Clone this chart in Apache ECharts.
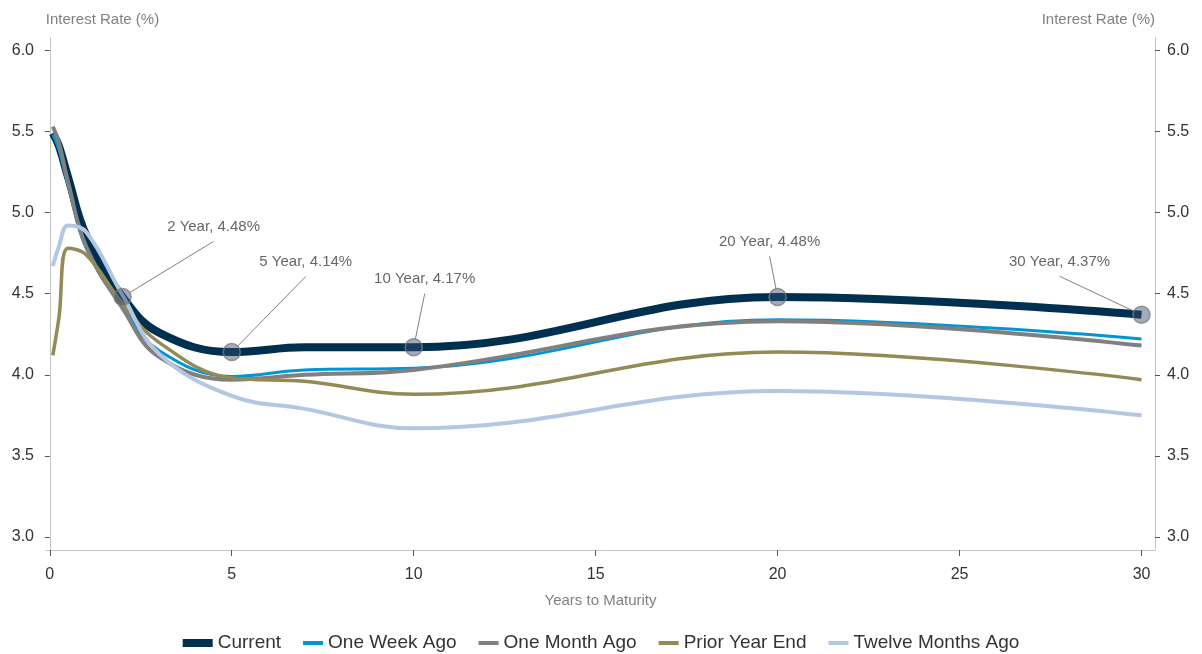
<!DOCTYPE html>
<html>
<head>
<meta charset="utf-8">
<script src="https://cdn.jsdelivr.net/npm/echarts@6/dist/echarts.min.js"></script>
<style>
html,body{margin:0;padding:0;background:#fff;}
#chart{width:1202px;height:654px;}
</style>
</head>
<body>
<div id="chart"></div>
<script>
// ---- data ----
const maturities = [0.083, 0.25, 0.5, 1, 2, 3, 5, 7, 10, 20, 30];
const current = [5.49, 5.41, 5.22, 4.86, 4.48, 4.26, 4.14, 4.17, 4.17, 4.48, 4.37];
const oneWeekAgo = [5.48, 5.39, 5.17, 4.78, 4.42, 4.15, 3.99, 4.03, 4.04, 4.34, 4.22];
const oneMonthAgo = [5.53, 5.43, 5.19, 4.79, 4.41, 4.11, 3.97, 4.00, 4.03, 4.33, 4.18];
const priorYearEnd = [4.12, 4.35, 4.78, 4.74, 4.44, 4.20, 3.98, 3.96, 3.88, 4.14, 3.97];
const twelveMonthsAgo = [4.67, 4.79, 4.92, 4.88, 4.49, 4.13, 3.87, 3.79, 3.67, 3.90, 3.75];
const seriesNames = ['Current', 'One Week Ago', 'One Month Ago', 'Prior Year End', 'Twelve Months Ago'];
const labeledMaturities = [2, 5, 10, 20, 30];
const xTicks = [0, 5, 10, 15, 20, 25, 30];
const yTicks = [3.0, 3.5, 4.0, 4.5, 5.0, 5.5, 6.0];

// ---- styling ----
const FONT = "'Liberation Sans', Arial, sans-serif";
const colors = ['#00304f', '#0096d6', '#808080', '#938a56', '#b4c7e2'];
const widths = [8, 3, 4, 3.5, 4];
const SMOOTH = 0.4;
// label text-centre offsets from the marker centre (px)
const labelOffsets = [[91, -71], [74, -91], [11, -69], [-8, -56], [-82, -54]];
const LBL_PAD_TOP = 100, LBL_PAD_BOTTOM = 7, LBL_HALF_H = 8.5;

const pairs = arr => maturities.map((m, i) => [m, arr[i]]);
const allSeries = [current, oneWeekAgo, oneMonthAgo, priorYearEnd, twelveMonthsAgo];

const lineSeries = allSeries.map((arr, i) => ({
  name: seriesNames[i],
  type: 'line',
  smooth: SMOOTH,
  showSymbol: false,
  symbol: 'none',
  data: pairs(arr),
  lineStyle: { color: colors[i], width: widths[i], cap: 'butt' },
  itemStyle: { color: colors[i] },
  z: 2 + i
}));

const markerData = labeledMaturities.map(m => [m, current[maturities.indexOf(m)]]);

const yAxisBase = (pos) => ({
  type: 'value',
  position: pos,
  min: 2.92,
  max: 6.076,
  name: 'Interest Rate (%)',
  nameLocation: 'end',
  nameGap: 11,
  nameTextStyle: {
    color: '#808080', fontSize: 15, fontFamily: FONT,
    align: pos === 'left' ? 'left' : 'right', verticalAlign: 'bottom',
    padding: pos === 'left' ? [0, 0, 0, -4] : 0
  },
  axisLine: { show: true, lineStyle: { color: '#c4c4c4', width: 1 } },
  axisTick: { show: true, length: 5, customValues: yTicks, lineStyle: { color: '#555' } },
  axisLabel: {
    customValues: yTicks, margin: 12, color: '#333', fontSize: 16, fontFamily: FONT,
    formatter: v => v.toFixed(1)
  },
  splitLine: { show: false }
});

const option = {
  animation: false,
  backgroundColor: '#fff',
  grid: { left: 46, right: 47, top: 38, bottom: 104, containLabel: false },
  xAxis: {
    type: 'value',
    min: -0.104,
    max: 30.37,
    name: 'Years to Maturity',
    nameLocation: 'middle',
    nameGap: 43,
    nameTextStyle: { color: '#808080', fontSize: 15, fontFamily: FONT },
    axisLine: { show: true, lineStyle: { color: '#c4c4c4', width: 1 } },
    axisTick: { show: true, length: 6, customValues: xTicks, lineStyle: { color: '#555' } },
    axisLabel: { customValues: xTicks, margin: 17, color: '#333', fontSize: 16, fontFamily: FONT },
    splitLine: { show: false }
  },
  yAxis: [yAxisBase('left'), yAxisBase('right')],
  legend: {
    data: seriesNames.map((n, i) => ({
      name: n,
      icon: i === 0 ? 'rect' : 'path://M0,0M30,8M10,2H30V6H10Z',
      itemStyle: { color: colors[i], borderWidth: 0 }
    })),
    left: 'center',
    top: 631,
    itemWidth: 30,
    itemHeight: 8,
    itemGap: 12,
    padding: 0,
    selectedMode: false,
    textStyle: { color: '#333', fontSize: 19, fontFamily: FONT, lineHeight: 24 }
  },
  series: [
    ...lineSeries,
    {
      name: 'markers',
      type: 'scatter',
      data: markerData,
      symbol: 'circle',
      symbolSize: 17,
      z: 20,
      itemStyle: { color: 'rgba(53,77,109,0.58)', borderColor: '#7c7c7c', borderWidth: 1.5 },
      label: {
        show: true,
        position: 'inside',
        align: 'center',
        verticalAlign: 'bottom',
        color: '#404040',
        fontSize: 15,
        fontFamily: FONT,
        padding: [LBL_PAD_TOP, 0, LBL_PAD_BOTTOM, 0],
        backgroundColor: 'rgba(255,255,255,0)',
        formatter: p => p.value[0] + ' Year, ' + p.value[1].toFixed(2) + '%'
      },
      labelLine: { show: true, lineStyle: { color: '#808080', width: 1 } },
      labelLayout: params => ({
        dx: labelOffsets[params.dataIndex][0],
        dy: labelOffsets[params.dataIndex][1] + LBL_PAD_BOTTOM + LBL_HALF_H
      }),
      emphasis: { disabled: true }
    }
  ]
};

const chart = echarts.init(document.getElementById('chart'), null, { renderer: 'canvas' });
chart.setOption(option);
</script>
</body>
</html>
